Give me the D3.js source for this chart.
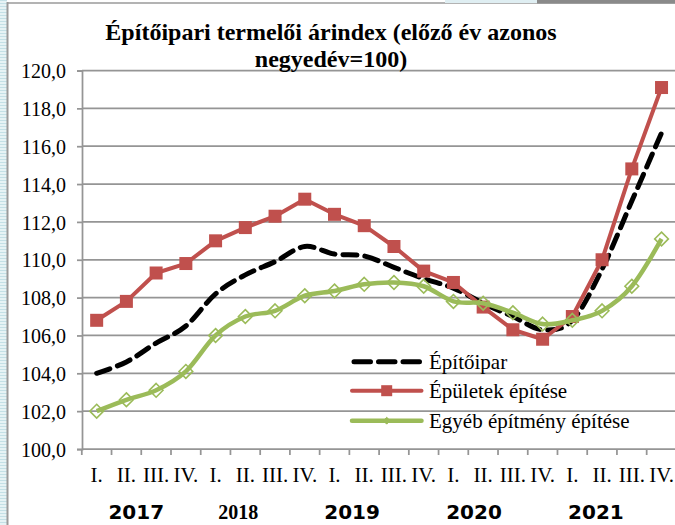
<!DOCTYPE html>
<html>
<head>
<meta charset="utf-8">
<script src="https://cdn.jsdelivr.net/npm/d3@7"></script>
<style>
  html, body { margin: 0; padding: 0; background: #fff; }
  svg { display: block; }
</style>
</head>
<body>
<svg id="chart" width="675" height="525"></svg>
<script>
// ---- data ----
const quarters = ["I.", "II.", "III.", "IV.", "I.", "II.", "III.", "IV.", "I.", "II.", "III.", "IV.",
                  "I.", "II.", "III.", "IV.", "I.", "II.", "III.", "IV."];
const years = ["2017", "2018", "2019", "2020", "2021"];
const yTicks = [100, 102, 104, 106, 108, 110, 112, 114, 116, 118, 120];
const seriesNames = ["Építőipar", "Épületek építése", "Egyéb építmény építése"];
const epitoipar = [104.0, 104.6, 105.6, 106.5, 108.2, 109.2, 109.9, 110.7, 110.3, 110.2, 109.6, 109.0,
                   108.5, 107.7, 107.0, 106.3, 106.8, 109.5, 113.1, 116.7];
const epuletek = [106.8, 107.8, 109.3, 109.8, 111.0, 111.7, 112.3, 113.2, 112.4, 111.8, 110.7, 109.4,
                  108.8, 107.5, 106.3, 105.8, 107.0, 110.0, 114.8, 119.1];
const egyeb = [102.0, 102.6, 103.1, 104.1, 106.0, 107.0, 107.3, 108.1, 108.35, 108.7, 108.8, 108.6,
               107.8, 107.7, 107.2, 106.6, 106.8, 107.3, 108.6, 111.1];
const titleLines = ["Építőipari termelői árindex (előző év azonos", "negyedév=100)"];

// ---- layout / style ----
const serif = "'Liberation Serif', 'Times New Roman', serif";
const sans = "'DejaVu Sans', Verdana, sans-serif";
const gridCol = "#959595";
const yearNudge = [-5, -22, -27, -24, -21];
const yearSerif = [false, true, false, false, false];

const svg = d3.select("#chart");

// frame decorations
const defs = svg.append("defs");
const pat = defs.append("pattern").attr("id", "stripes").attr("width", 8).attr("height", 3)
  .attr("patternUnits", "userSpaceOnUse");
pat.append("rect").attr("width", 8).attr("height", 3).attr("fill", "#e6f3f5");
pat.append("rect").attr("width", 8).attr("height", 1).attr("fill", "#c4e0e6");
svg.append("rect").attr("x", 0).attr("y", 0).attr("width", 7).attr("height", 525).attr("fill", "url(#stripes)");
svg.append("line").attr("x1", 7.5).attr("x2", 7.5).attr("y1", 2).attr("y2", 525)
  .attr("stroke", "#9a9a9a").attr("stroke-width", 2);
svg.append("line").attr("x1", 7).attr("x2", 675).attr("y1", 3).attr("y2", 3)
  .attr("stroke", "#9a9a9a").attr("stroke-width", 1.5);
svg.append("rect").attr("x", 445).attr("y", 0).attr("width", 92).attr("height", 3).attr("fill", "#dfeef2");
svg.append("rect").attr("x", 537).attr("y", 0).attr("width", 138).attr("height", 3.5).attr("fill", "#8a8a8a");

// scales
const x = d3.scaleBand().domain(d3.range(quarters.length)).range([81.8, 676.4]).padding(0);
const y = d3.scaleLinear().domain([100, 120]).range([449, 70.5]);
const cx = i => x(i) + x.bandwidth() / 2;

// gridlines
svg.append("g").selectAll("line").data(yTicks).join("line")
  .attr("x1", 82).attr("x2", 675)
  .attr("y1", d => y(d)).attr("y2", d => y(d))
  .attr("stroke", gridCol).attr("stroke-width", 1.75);

// y axis
const yAxis = svg.append("g").attr("transform", "translate(82,0)")
  .call(d3.axisLeft(y).tickValues(yTicks).tickSize(5).tickPadding(11)
    .tickFormat(d => d.toFixed(1).replace(".", ",")));
yAxis.select(".domain").attr("stroke", gridCol).attr("stroke-width", 1.75);
yAxis.selectAll(".tick line").attr("stroke", gridCol).attr("stroke-width", 1.75);
yAxis.selectAll(".tick text").attr("font-family", serif).attr("font-size", 20)
  .attr("fill", "#000").attr("dy", "0.36em");

// x axis boundary ticks
const bounds = d3.range(quarters.length + 1).map(i => i < quarters.length ? x(i) : x.range()[1]);
svg.append("g").selectAll("line").data(bounds).join("line")
  .attr("x1", d => d).attr("x2", d => d).attr("y1", 449).attr("y2", 455)
  .attr("stroke", gridCol).attr("stroke-width", 1.75);

// x labels
const xAxis = svg.append("g").attr("transform", "translate(0,449)")
  .call(d3.axisBottom(x).tickSize(0).tickPadding(0).tickFormat(i => quarters[i]));
xAxis.select(".domain").remove();
xAxis.selectAll(".tick text").attr("font-family", serif).attr("font-size", 21)
  .attr("fill", "#000").attr("dy", null).attr("y", 32.5);

// year labels
svg.append("g").selectAll("text").data(years).join("text")
  .attr("x", (d, k) => x(4 * k + 2) + yearNudge[k])
  .attr("y", 519)
  .attr("text-anchor", "middle")
  .attr("font-family", (d, k) => yearSerif[k] ? serif : sans)
  .attr("font-weight", "bold")
  .attr("font-size", 20)
  .text(d => d);

// title
svg.append("g").selectAll("text").data(titleLines).join("text")
  .attr("x", 331).attr("y", (d, i) => 39.5 + i * 27.5)
  .attr("text-anchor", "middle")
  .attr("font-family", serif).attr("font-weight", "bold").attr("font-size", 24)
  .text(d => d);

// series
const idx = d3.range(quarters.length);
const smooth = d3.curveCardinal.tension(0);

// black dashed smooth
svg.append("path")
  .attr("d", d3.line().x(i => cx(i)).y(i => y(epitoipar[i])).curve(smooth)(idx))
  .attr("fill", "none").attr("stroke", "#000").attr("stroke-width", 5)
  .attr("stroke-dasharray", "14,8").attr("stroke-linecap", "round");

// red straight with squares
svg.append("path")
  .attr("d", d3.line().x(i => cx(i)).y(i => y(epuletek[i]))(idx))
  .attr("fill", "none").attr("stroke", "#C0504D").attr("stroke-width", 4)
  .attr("stroke-linejoin", "round");
svg.append("g").selectAll("rect").data(idx).join("rect")
  .attr("x", i => cx(i) - 6.5).attr("y", i => y(epuletek[i]) - 6.5)
  .attr("width", 13).attr("height", 13).attr("fill", "#C0504D");

// green smooth with hollow diamonds
svg.append("path")
  .attr("d", d3.line().x(i => cx(i)).y(i => y(egyeb[i])).curve(smooth)(idx))
  .attr("fill", "none").attr("stroke", "#9BBB59").attr("stroke-width", 4.5);
const diamond = d3.symbol().type(d3.symbolDiamond2).size(120);
svg.append("g").selectAll("path").data(idx).join("path")
  .attr("transform", i => `translate(${cx(i)},${y(egyeb[i])})`)
  .attr("d", diamond)
  .attr("fill", "none").attr("stroke", "#9BBB59").attr("stroke-width", 1.6);

// legend
const legRows = [361.7, 390.7, 420.7];
const leg = svg.append("g");
leg.append("line").attr("x1", 354).attr("x2", 419.5).attr("y1", legRows[0]).attr("y2", legRows[0])
  .attr("stroke", "#000").attr("stroke-width", 5).attr("stroke-linecap", "round")
  .attr("stroke-dasharray", "16.5,8");
leg.append("line").attr("x1", 352).attr("x2", 421.5).attr("y1", legRows[1]).attr("y2", legRows[1])
  .attr("stroke", "#C0504D").attr("stroke-width", 4).attr("stroke-linecap", "round");
leg.append("rect").attr("x", 386.7 - 5.5).attr("y", legRows[1] - 5.5).attr("width", 11).attr("height", 11)
  .attr("fill", "#C0504D");
leg.append("line").attr("x1", 352).attr("x2", 421.5).attr("y1", legRows[2]).attr("y2", legRows[2])
  .attr("stroke", "#9BBB59").attr("stroke-width", 4.5).attr("stroke-linecap", "round");
leg.append("path").attr("transform", `translate(386.7,${legRows[2]})`)
  .attr("d", d3.symbol().type(d3.symbolDiamond2).size(30))
  .attr("fill", "#9BBB59").attr("stroke", "#9BBB59").attr("stroke-width", 1);
leg.selectAll("text").data(seriesNames).join("text")
  .attr("x", 429).attr("y", (d, i) => legRows[i] + 7.5)
  .attr("font-family", serif).attr("font-size", 21)
  .text(d => d);
</script>
</body>
</html>
